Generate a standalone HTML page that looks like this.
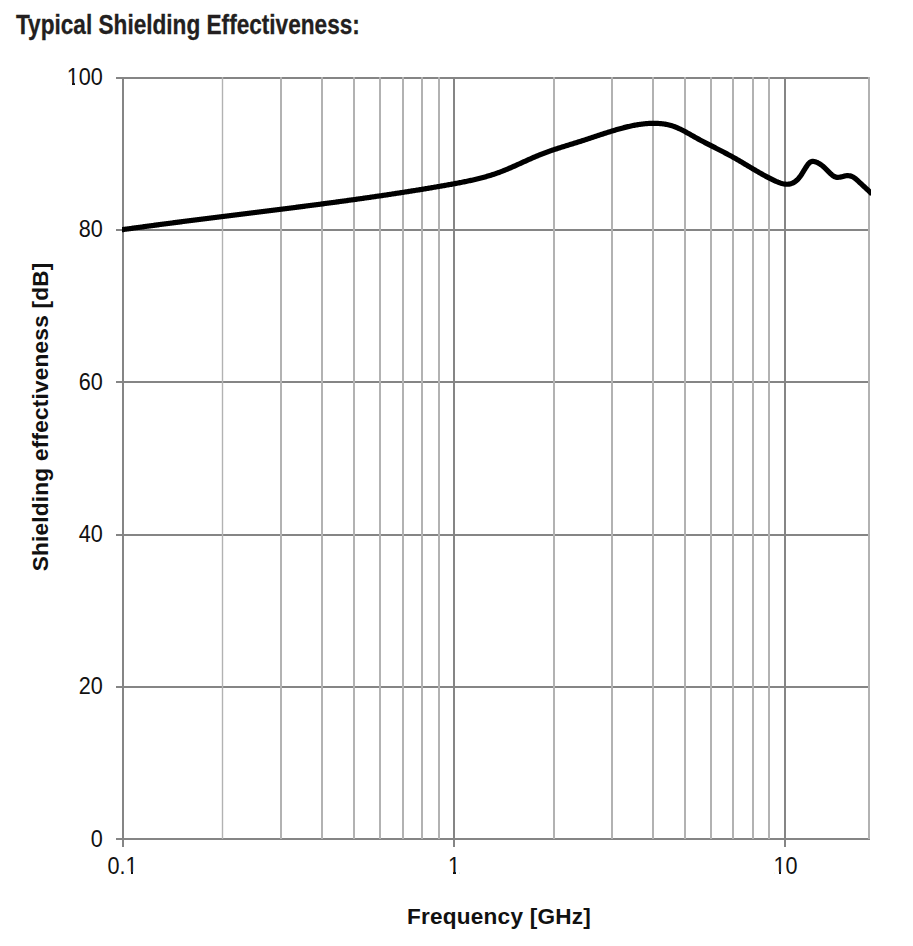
<!DOCTYPE html>
<html><head><meta charset="utf-8">
<style>
html,body{margin:0;padding:0;background:#fff;width:913px;height:946px;overflow:hidden;}
svg{display:block;}
.tick{font-family:"Liberation Sans",sans-serif;font-size:23px;fill:#111;}
.lab{font-family:"Liberation Sans",sans-serif;font-size:22.6px;font-weight:bold;fill:#111;letter-spacing:0.22px;}
.title{font-family:"Liberation Sans",sans-serif;font-size:28px;font-weight:bold;fill:#231f20;stroke:#231f20;stroke-width:0.3px;}
</style></head><body>
<svg width="913" height="946" viewBox="0 0 913 946">
<text x="16" y="34" class="title" transform="translate(16 0) scale(0.808 1) translate(-16 0)">Typical Shielding Effectiveness:</text>
<rect x="116" y="77" width="754" height="2" fill="#858585"/>
<rect x="116" y="229" width="754" height="2" fill="#858585"/>
<rect x="116" y="381" width="754" height="2" fill="#858585"/>
<rect x="116" y="534" width="754" height="2" fill="#858585"/>
<rect x="116" y="686" width="754" height="2" fill="#858585"/>
<rect x="116" y="838" width="754" height="2" fill="#858585"/>
<rect x="221.8" y="77" width="1.4" height="762" fill="#b2b2b2"/>
<rect x="280" y="77" width="2" height="762" fill="#b2b2b2"/>
<rect x="321" y="77" width="2" height="762" fill="#b2b2b2"/>
<rect x="353" y="77" width="2" height="762" fill="#b2b2b2"/>
<rect x="379" y="77" width="2" height="762" fill="#b2b2b2"/>
<rect x="402" y="77" width="2" height="762" fill="#b2b2b2"/>
<rect x="421" y="77" width="2" height="762" fill="#b2b2b2"/>
<rect x="438" y="77" width="2" height="762" fill="#b2b2b2"/>
<rect x="553" y="77" width="2" height="762" fill="#b2b2b2"/>
<rect x="611" y="77" width="2" height="762" fill="#b2b2b2"/>
<rect x="652" y="77" width="2" height="762" fill="#b2b2b2"/>
<rect x="684" y="77" width="2" height="762" fill="#b2b2b2"/>
<rect x="710" y="77" width="2" height="762" fill="#b2b2b2"/>
<rect x="732" y="77" width="2" height="762" fill="#b2b2b2"/>
<rect x="752" y="77" width="2" height="762" fill="#b2b2b2"/>
<rect x="768" y="77" width="2" height="762" fill="#b2b2b2"/>
<rect x="868" y="77" width="2" height="762" fill="#b2b2b2"/>
<rect x="122" y="77" width="2" height="770" fill="#858585"/>
<rect x="453" y="77" width="2" height="770" fill="#858585"/>
<rect x="784" y="77" width="2" height="770" fill="#858585"/>
<text transform="translate(102.8 85.2) scale(0.94 1)" text-anchor="end" class="tick">100</text>
<text transform="translate(102.8 237.4) scale(0.94 1)" text-anchor="end" class="tick">80</text>
<text transform="translate(102.8 389.6) scale(0.94 1)" text-anchor="end" class="tick">60</text>
<text transform="translate(102.8 541.8) scale(0.94 1)" text-anchor="end" class="tick">40</text>
<text transform="translate(102.8 694.0) scale(0.94 1)" text-anchor="end" class="tick">20</text>
<text transform="translate(102.8 847.4) scale(0.94 1)" text-anchor="end" class="tick">0</text>
<text transform="translate(122.5 874) scale(0.94 1)" text-anchor="middle" class="tick">0.1</text>
<text transform="translate(454 874) scale(0.94 1)" text-anchor="middle" class="tick">1</text>
<text transform="translate(785.5 874) scale(0.94 1)" text-anchor="middle" class="tick">10</text>
<g fill="#fff">
<rect x="67.5" y="82.6" width="4.5" height="2.8"/><rect x="75" y="82.6" width="3.5" height="2.8"/>
<rect x="126.5" y="871.6" width="4.5" height="2.8"/><rect x="133" y="871.6" width="4" height="2.8"/>
<rect x="448.5" y="871.6" width="4.5" height="2.8"/><rect x="456" y="871.6" width="3.5" height="2.8"/>
<rect x="774.5" y="871.6" width="4.5" height="2.8"/><rect x="781" y="871.6" width="4" height="2.8"/>
</g>
<text x="499" y="924" text-anchor="middle" class="lab">Frequency [GHz]</text>
<text transform="translate(47.6 416.9) rotate(-90)" text-anchor="middle" class="lab">Shielding effectiveness [dB]</text>
<defs><clipPath id="c"><rect x="122" y="60" width="749" height="800"/></clipPath></defs>
<path clip-path="url(#c)" d="M118.0 230.29 L119.0 230.15 L120.0 230.01 L121.0 229.87 L122.0 229.72 L123.0 229.58 L124.0 229.44 L125.0 229.30 L126.0 229.16 L127.0 229.02 L128.0 228.88 L129.0 228.74 L130.0 228.60 L131.0 228.46 L132.0 228.32 L133.0 228.19 L134.0 228.05 L135.0 227.91 L136.0 227.77 L137.0 227.63 L138.0 227.50 L139.0 227.36 L140.0 227.22 L141.0 227.09 L142.0 226.95 L143.0 226.81 L144.0 226.68 L145.0 226.54 L146.0 226.41 L147.0 226.27 L148.0 226.14 L149.0 226.00 L150.0 225.87 L151.0 225.73 L152.0 225.60 L153.0 225.47 L154.0 225.33 L155.0 225.20 L156.0 225.07 L157.0 224.93 L158.0 224.80 L159.0 224.67 L160.0 224.54 L161.0 224.40 L162.0 224.27 L163.0 224.14 L164.0 224.01 L165.0 223.88 L166.0 223.74 L167.0 223.61 L168.0 223.48 L169.0 223.35 L170.0 223.22 L171.0 223.09 L172.0 222.96 L173.0 222.83 L174.0 222.70 L175.0 222.57 L176.0 222.44 L177.0 222.31 L178.0 222.18 L179.0 222.05 L180.0 221.92 L181.0 221.80 L182.0 221.67 L183.0 221.54 L184.0 221.41 L185.0 221.28 L186.0 221.15 L187.0 221.03 L188.0 220.90 L189.0 220.77 L190.0 220.64 L191.0 220.52 L192.0 220.39 L193.0 220.26 L194.0 220.13 L195.0 220.01 L196.0 219.88 L197.0 219.75 L198.0 219.63 L199.0 219.50 L200.0 219.37 L201.0 219.25 L202.0 219.12 L203.0 218.99 L204.0 218.87 L205.0 218.74 L206.0 218.62 L207.0 218.49 L208.0 218.36 L209.0 218.24 L210.0 218.11 L211.0 217.99 L212.0 217.86 L213.0 217.74 L214.0 217.61 L215.0 217.49 L216.0 217.36 L217.0 217.24 L218.0 217.11 L219.0 216.99 L220.0 216.86 L221.0 216.74 L222.0 216.61 L223.0 216.49 L224.0 216.36 L225.0 216.24 L226.0 216.11 L227.0 215.99 L228.0 215.86 L229.0 215.74 L230.0 215.61 L231.0 215.49 L232.0 215.36 L233.0 215.24 L234.0 215.11 L235.0 214.99 L236.0 214.86 L237.0 214.74 L238.0 214.62 L239.0 214.49 L240.0 214.37 L241.0 214.24 L242.0 214.12 L243.0 213.99 L244.0 213.87 L245.0 213.74 L246.0 213.62 L247.0 213.50 L248.0 213.37 L249.0 213.25 L250.0 213.12 L251.0 213.00 L252.0 212.87 L253.0 212.75 L254.0 212.62 L255.0 212.50 L256.0 212.37 L257.0 212.25 L258.0 212.12 L259.0 212.00 L260.0 211.87 L261.0 211.75 L262.0 211.62 L263.0 211.50 L264.0 211.37 L265.0 211.25 L266.0 211.12 L267.0 211.00 L268.0 210.87 L269.0 210.75 L270.0 210.62 L271.0 210.50 L272.0 210.37 L273.0 210.25 L274.0 210.12 L275.0 209.99 L276.0 209.87 L277.0 209.74 L278.0 209.62 L279.0 209.49 L280.0 209.36 L281.0 209.24 L282.0 209.11 L283.0 208.98 L284.0 208.86 L285.0 208.73 L286.0 208.60 L287.0 208.48 L288.0 208.35 L289.0 208.22 L290.0 208.09 L291.0 207.97 L292.0 207.84 L293.0 207.71 L294.0 207.58 L295.0 207.46 L296.0 207.33 L297.0 207.20 L298.0 207.07 L299.0 206.94 L300.0 206.81 L301.0 206.68 L302.0 206.56 L303.0 206.43 L304.0 206.30 L305.0 206.17 L306.0 206.04 L307.0 205.91 L308.0 205.78 L309.0 205.65 L310.0 205.52 L311.0 205.39 L312.0 205.26 L313.0 205.13 L314.0 205.00 L315.0 204.87 L316.0 204.73 L317.0 204.60 L318.0 204.47 L319.0 204.34 L320.0 204.21 L321.0 204.08 L322.0 203.94 L323.0 203.81 L324.0 203.68 L325.0 203.54 L326.0 203.41 L327.0 203.28 L328.0 203.14 L329.0 203.01 L330.0 202.88 L331.0 202.74 L332.0 202.61 L333.0 202.47 L334.0 202.34 L335.0 202.20 L336.0 202.07 L337.0 201.93 L338.0 201.80 L339.0 201.66 L340.0 201.52 L341.0 201.39 L342.0 201.25 L343.0 201.11 L344.0 200.98 L345.0 200.84 L346.0 200.70 L347.0 200.56 L348.0 200.43 L349.0 200.29 L350.0 200.15 L351.0 200.01 L352.0 199.87 L353.0 199.73 L354.0 199.59 L355.0 199.45 L356.0 199.31 L357.0 199.17 L358.0 199.03 L359.0 198.89 L360.0 198.75 L361.0 198.60 L362.0 198.46 L363.0 198.32 L364.0 198.18 L365.0 198.03 L366.0 197.89 L367.0 197.75 L368.0 197.60 L369.0 197.46 L370.0 197.32 L371.0 197.17 L372.0 197.03 L373.0 196.88 L374.0 196.73 L375.0 196.59 L376.0 196.44 L377.0 196.30 L378.0 196.15 L379.0 196.00 L380.0 195.85 L381.0 195.71 L382.0 195.56 L383.0 195.41 L384.0 195.26 L385.0 195.11 L386.0 194.96 L387.0 194.81 L388.0 194.66 L389.0 194.51 L390.0 194.36 L391.0 194.21 L392.0 194.05 L393.0 193.90 L394.0 193.75 L395.0 193.60 L396.0 193.44 L397.0 193.29 L398.0 193.14 L399.0 192.98 L400.0 192.83 L401.0 192.67 L402.0 192.52 L403.0 192.36 L404.0 192.20 L405.0 192.05 L406.0 191.89 L407.0 191.73 L408.0 191.57 L409.0 191.41 L410.0 191.26 L411.0 191.10 L412.0 190.94 L413.0 190.78 L414.0 190.62 L415.0 190.46 L416.0 190.29 L417.0 190.13 L418.0 189.97 L419.0 189.81 L420.0 189.64 L421.0 189.48 L422.0 189.32 L423.0 189.15 L424.0 188.99 L425.0 188.82 L426.0 188.66 L427.0 188.49 L428.0 188.32 L429.0 188.15 L430.0 187.99 L431.0 187.82 L432.0 187.65 L433.0 187.48 L434.0 187.31 L435.0 187.14 L436.0 186.97 L437.0 186.79 L438.0 186.62 L439.0 186.45 L440.0 186.27 L441.0 186.10 L442.0 185.93 L443.0 185.75 L444.0 185.57 L445.0 185.40 L446.0 185.22 L447.0 185.04 L448.0 184.86 L449.0 184.68 L450.0 184.50 L451.0 184.32 L452.0 184.13 L453.0 183.95 L454.0 183.77 L455.0 183.58 L456.0 183.39 L457.0 183.21 L458.0 183.02 L459.0 182.83 L460.0 182.64 L461.0 182.44 L462.0 182.25 L463.0 182.05 L464.0 181.85 L465.0 181.65 L466.0 181.45 L467.0 181.24 L468.0 181.03 L469.0 180.82 L470.0 180.61 L471.0 180.39 L472.0 180.17 L473.0 179.94 L474.0 179.72 L475.0 179.48 L476.0 179.25 L477.0 179.01 L478.0 178.77 L479.0 178.52 L480.0 178.27 L481.0 178.01 L482.0 177.75 L483.0 177.48 L484.0 177.21 L485.0 176.93 L486.0 176.65 L487.0 176.36 L488.0 176.07 L489.0 175.77 L490.0 175.47 L491.0 175.16 L492.0 174.84 L493.0 174.52 L494.0 174.19 L495.0 173.85 L496.0 173.51 L497.0 173.16 L498.0 172.80 L499.0 172.44 L500.0 172.07 L501.0 171.69 L502.0 171.30 L503.0 170.91 L504.0 170.51 L505.0 170.11 L506.0 169.70 L507.0 169.28 L508.0 168.86 L509.0 168.43 L510.0 168.00 L511.0 167.57 L512.0 167.13 L513.0 166.69 L514.0 166.25 L515.0 165.80 L516.0 165.35 L517.0 164.90 L518.0 164.45 L519.0 163.99 L520.0 163.54 L521.0 163.08 L522.0 162.63 L523.0 162.17 L524.0 161.71 L525.0 161.26 L526.0 160.80 L527.0 160.35 L528.0 159.90 L529.0 159.45 L530.0 159.01 L531.0 158.56 L532.0 158.12 L533.0 157.68 L534.0 157.25 L535.0 156.82 L536.0 156.40 L537.0 155.98 L538.0 155.56 L539.0 155.15 L540.0 154.75 L541.0 154.35 L542.0 153.96 L543.0 153.58 L544.0 153.20 L545.0 152.82 L546.0 152.45 L547.0 152.09 L548.0 151.73 L549.0 151.37 L550.0 151.02 L551.0 150.67 L552.0 150.33 L553.0 149.99 L554.0 149.65 L555.0 149.32 L556.0 148.99 L557.0 148.67 L558.0 148.34 L559.0 148.02 L560.0 147.70 L561.0 147.38 L562.0 147.07 L563.0 146.75 L564.0 146.44 L565.0 146.13 L566.0 145.82 L567.0 145.51 L568.0 145.20 L569.0 144.89 L570.0 144.58 L571.0 144.28 L572.0 143.97 L573.0 143.66 L574.0 143.35 L575.0 143.04 L576.0 142.73 L577.0 142.42 L578.0 142.10 L579.0 141.79 L580.0 141.47 L581.0 141.15 L582.0 140.83 L583.0 140.50 L584.0 140.18 L585.0 139.85 L586.0 139.53 L587.0 139.20 L588.0 138.87 L589.0 138.54 L590.0 138.21 L591.0 137.87 L592.0 137.54 L593.0 137.21 L594.0 136.88 L595.0 136.54 L596.0 136.21 L597.0 135.88 L598.0 135.55 L599.0 135.22 L600.0 134.89 L601.0 134.56 L602.0 134.23 L603.0 133.91 L604.0 133.58 L605.0 133.26 L606.0 132.94 L607.0 132.62 L608.0 132.30 L609.0 131.98 L610.0 131.67 L611.0 131.36 L612.0 131.05 L613.0 130.74 L614.0 130.44 L615.0 130.14 L616.0 129.85 L617.0 129.56 L618.0 129.27 L619.0 128.98 L620.0 128.70 L621.0 128.43 L622.0 128.16 L623.0 127.89 L624.0 127.63 L625.0 127.38 L626.0 127.13 L627.0 126.88 L628.0 126.65 L629.0 126.42 L630.0 126.19 L631.0 125.97 L632.0 125.76 L633.0 125.56 L634.0 125.36 L635.0 125.17 L636.0 124.99 L637.0 124.82 L638.0 124.65 L639.0 124.50 L640.0 124.35 L641.0 124.21 L642.0 124.08 L643.0 123.96 L644.0 123.85 L645.0 123.75 L646.0 123.66 L647.0 123.57 L648.0 123.50 L649.0 123.44 L650.0 123.39 L651.0 123.36 L652.0 123.33 L653.0 123.31 L654.0 123.31 L655.0 123.32 L656.0 123.34 L657.0 123.37 L658.0 123.42 L659.0 123.48 L660.0 123.55 L661.0 123.64 L662.0 123.75 L663.0 123.87 L664.0 124.01 L665.0 124.17 L666.0 124.34 L667.0 124.53 L668.0 124.75 L669.0 124.98 L670.0 125.23 L671.0 125.51 L672.0 125.80 L673.0 126.12 L674.0 126.46 L675.0 126.82 L676.0 127.21 L677.0 127.62 L678.0 128.06 L679.0 128.51 L680.0 128.98 L681.0 129.46 L682.0 129.97 L683.0 130.48 L684.0 131.01 L685.0 131.55 L686.0 132.09 L687.0 132.65 L688.0 133.21 L689.0 133.78 L690.0 134.35 L691.0 134.92 L692.0 135.49 L693.0 136.06 L694.0 136.63 L695.0 137.19 L696.0 137.75 L697.0 138.31 L698.0 138.85 L699.0 139.40 L700.0 139.94 L701.0 140.47 L702.0 141.00 L703.0 141.53 L704.0 142.05 L705.0 142.58 L706.0 143.09 L707.0 143.61 L708.0 144.13 L709.0 144.64 L710.0 145.15 L711.0 145.66 L712.0 146.17 L713.0 146.67 L714.0 147.18 L715.0 147.69 L716.0 148.20 L717.0 148.71 L718.0 149.22 L719.0 149.73 L720.0 150.24 L721.0 150.75 L722.0 151.27 L723.0 151.78 L724.0 152.30 L725.0 152.83 L726.0 153.35 L727.0 153.88 L728.0 154.42 L729.0 154.95 L730.0 155.50 L731.0 156.04 L732.0 156.59 L733.0 157.15 L734.0 157.71 L735.0 158.28 L736.0 158.85 L737.0 159.43 L738.0 160.01 L739.0 160.59 L740.0 161.18 L741.0 161.77 L742.0 162.36 L743.0 162.95 L744.0 163.55 L745.0 164.15 L746.0 164.75 L747.0 165.35 L748.0 165.94 L749.0 166.54 L750.0 167.14 L751.0 167.74 L752.0 168.34 L753.0 168.93 L754.0 169.52 L755.0 170.11 L756.0 170.70 L757.0 171.28 L758.0 171.86 L759.0 172.44 L760.0 173.01 L761.0 173.58 L762.0 174.14 L763.0 174.70 L764.0 175.25 L765.0 175.80 L766.0 176.34 L767.0 176.87 L768.0 177.39 L769.0 177.91 L770.0 178.42 L771.0 178.92 L772.0 179.41 L773.0 179.89 L774.0 180.36 L775.0 180.82 L776.0 181.28 L777.0 181.71 L778.0 182.13 L779.0 182.52 L780.0 182.89 L781.0 183.22 L782.0 183.51 L783.0 183.76 L784.0 183.96 L785.0 184.11 L786.0 184.20 L787.0 184.23 L788.0 184.19 L789.0 184.09 L790.0 183.91 L791.0 183.65 L792.0 183.30 L793.0 182.86 L794.0 182.33 L795.0 181.69 L796.0 180.94 L797.0 180.07 L798.0 179.08 L799.0 177.94 L800.0 176.67 L801.0 175.25 L802.0 173.72 L803.0 172.11 L804.0 170.47 L805.0 168.83 L806.0 167.22 L807.0 165.70 L808.0 164.33 L809.0 163.18 L810.0 162.31 L811.0 161.72 L812.0 161.41 L813.0 161.34 L814.0 161.47 L815.0 161.72 L816.0 162.06 L817.0 162.46 L818.0 162.93 L819.0 163.47 L820.0 164.07 L821.0 164.75 L822.0 165.49 L823.0 166.30 L824.0 167.18 L825.0 168.11 L826.0 169.07 L827.0 170.06 L828.0 171.07 L829.0 172.07 L830.0 173.06 L831.0 174.02 L832.0 174.92 L833.0 175.72 L834.0 176.37 L835.0 176.85 L836.0 177.15 L837.0 177.31 L838.0 177.34 L839.0 177.27 L840.0 177.11 L841.0 176.91 L842.0 176.66 L843.0 176.41 L844.0 176.16 L845.0 175.94 L846.0 175.78 L847.0 175.68 L848.0 175.66 L849.0 175.73 L850.0 175.88 L851.0 176.14 L852.0 176.52 L853.0 177.01 L854.0 177.62 L855.0 178.33 L856.0 179.12 L857.0 179.98 L858.0 180.88 L859.0 181.82 L860.0 182.77 L861.0 183.71 L862.0 184.64 L863.0 185.56 L864.0 186.48 L865.0 187.40 L866.0 188.31 L867.0 189.24 L868.0 190.17 L869.0 191.11 L870.0 192.07 L871.0 193.04 L872.0 194.03" fill="none" stroke="#000" stroke-width="5.2" stroke-linejoin="round" stroke-linecap="butt"/>
</svg>
</body></html>
